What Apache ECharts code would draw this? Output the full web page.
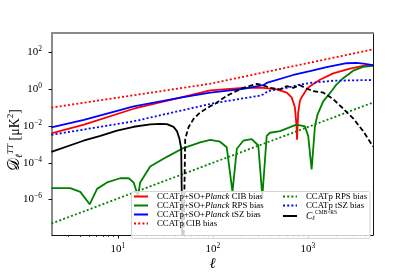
<!DOCTYPE html>
<html><head><meta charset="utf-8">
<script src="https://cdn.jsdelivr.net/npm/echarts@6/dist/echarts.min.js"></script>
<style>html,body{margin:0;padding:0;background:#fff}#c{width:415px;height:277px}</style>
</head><body><div id="c"></div>
<script>
// ---- data (ell, D_ell^TT in muK^2) ----
const ellJointCIB = [2, 4.4, 14.7, 49, 94, 209, 340, 470, 600, 675, 730, 760, 770, 790, 826, 860, 970, 1052, 1340, 1849, 2770, 3820, 4860];
const dlJointCIB  = [4.0e-3, 1.18e-2, 8.7e-2, 0.39, 0.865, 1.2, 1.2, 0.98, 0.66, 0.36, 0.108, 0.01, 1.8e-3, 0.048, 0.24, 0.36, 0.98, 1.47, 3.3, 7.3, 13.4, 18.5, 20];

const ellJointRPS = [2, 3.16, 4.03, 5.06, 6.05, 7.7, 10.6, 13, 14.7, 16.3, 17.2, 21.9, 32.9, 49, 73.6, 94, 119, 140, 161, 179, 209, 257, 301, 332, 369, 400, 509, 760, 931, 1009, 1096, 1188, 1260, 1451, 1780, 2000, 2355, 3000, 3820, 4860];
const dlJointRPS  = [4.2e-6, 4.2e-6, 2.6e-6, 5.5e-7, 3.8e-6, 8.5e-6, 1.44e-5, 1.44e-5, 8.5e-6, 1.5e-6, 8.5e-6, 6.3e-5, 2.1e-4, 6.3e-4, 1.29e-3, 1.78e-3, 1.4e-3, 7e-4, 2.6e-6, 5.8e-4, 1.58e-3, 1.94e-3, 8.7e-4, 1.45e-6, 2.9e-3, 4.3e-3, 5.3e-3, 1.18e-2, 9.6e-3, 2.9e-3, 4.3e-5, 9.6e-3, 0.04, 0.22, 0.8, 1.8, 4.0, 10.2, 16.4, 18.5];

const ellJointTSZ = [2, 4.4, 14.7, 49, 94, 209, 340, 369, 703, 1052, 1575, 2556, 3258, 3820, 4860];
const dlJointTSZ  = [8.5e-3, 0.0216, 0.117, 0.37, 0.66, 1.06, 1.66, 2.19, 5.96, 9.6, 16, 26, 27, 25, 20.5];

const ellCcatCIB = [2, 94, 4860];
const dlCcatCIB  = [0.1, 2.0, 148];

const ellCcatRPS = [2, 4860];
const dlCcatRPS  = [4.9e-8, 0.19];

const ellCcatTSZ = [2, 14.7, 100, 305, 340, 382, 600, 826, 1052, 1849, 4860];
const dlCcatTSZ  = [3.3e-3, 0.018, 0.17, 0.44, 0.53, 0.8, 1.2, 1.78, 2.19, 2.9, 3.2];

// C_ell^{CMB x RS}: positive part (solid) and |negative part| (dashed)
const ellCrossPos = [2, 4.35, 6.55, 9.8, 14.7, 21.9, 27.9, 32.9, 38.6, 41.9, 44.6, 46.5, 48.2];
const dlCrossPos  = [3.9e-4, 1.58e-3, 2.9e-3, 5.6e-3, 9.1e-3, 0.0123, 0.013, 0.0127, 8.9e-3, 5.3e-3, 1.94e-3, 5.8e-4, 1e-10];
const ellCrossNeg = [48.7, 51.2, 55.5, 62.6, 73.6, 94, 106, 140, 209, 290, 330, 400, 509, 600, 703, 826, 970, 1140, 1451, 1849, 2355, 3000, 3820, 4860];
const dlCrossNeg  = [1e-10, 1.95e-3, 8.5e-3, 0.024, 0.055, 0.12, 0.163, 0.44, 1.2, 1.94, 1.72, 1.2, 0.98, 1.47, 1.2, 1.66, 1.1, 0.8, 0.66, 0.29, 0.088, 0.026, 5.3e-3, 7.6e-4];

// ---- axes ticks and titles ----
const xMajorTicks = [10, 100, 1000];
const xMinorTicks = [3,4,5,6,7,8,9,20,30,40,50,60,70,80,90,200,300,400,500,600,700,800,900,2000,3000,4000];
const yMajorTicks = [1e-6, 1e-4, 1e-2, 1, 1e2];
const xTitle = '\u2113';
const yTitle = '{d|\ud835\udc9f}{sub|\u2113}{sup|TT}{n| [\u03bcK}{s2|2}{n|]}';

const X_MIN = 2.03, X_MAX = 4850;
const Y_MIN = Math.pow(10, -7.93), Y_MAX = Math.pow(10, 3.06);

const zip = (xs, ys) => xs.map((x, i) => [x, ys[i]]);
const SERIF = "'Liberation Serif', 'DejaVu Serif', serif";

const names = {
  jCIB: 'CCATp+SO+Planck CIB bias',
  jRPS: 'CCATp+SO+Planck RPS bias',
  jTSZ: 'CCATp+SO+Planck tSZ bias',
  cCIB: 'CCATp CIB bias',
  cRPS: 'CCATp RPS bias',
  cTSZ: 'CCATp tSZ bias',
  cross: 'CROSS'
};

const DOT = [2, 2.2];
function line(name, xs, ys, color, type) {
  return {
    name: name, type: 'line', data: zip(xs, ys), xAxisIndex: 0, yAxisIndex: 0,
    symbol: 'none', showSymbol: false, clip: true, smooth: false,
    lineStyle: {color: color, width: 1.8, type: type || 'solid', cap: 'butt'},
    itemStyle: {color: color, opacity: 0},
    emphasis: {disabled: true}
  };
}

function powLabel(v) {
  const e = Math.round(Math.log10(v));
  const s = (e < 0 ? '\u2212' + (-e) : '' + e);
  return '{b|10}{e|' + s + '}';
}
const tickRich = {
  b: {fontFamily: SERIF, fontSize: 11, lineHeight: 14, color: '#000'},
  e: {fontFamily: SERIF, fontSize: 7.5, lineHeight: 9, verticalAlign: 'top', color: '#000'}
};

const legendRich = {
  n: {fontFamily: SERIF, fontSize: 8.8, color: '#000', lineHeight: 11},
  i: {fontFamily: SERIF, fontSize: 8.8, fontStyle: 'italic', color: '#000', lineHeight: 11},
  c: {fontFamily: SERIF, fontSize: 9.5, fontStyle: 'italic', color: '#000', lineHeight: 12},
  sub: {fontFamily: SERIF, fontSize: 6.5, fontStyle: 'italic', color: '#000', lineHeight: 7, verticalAlign: 'bottom'},
  sup: {fontFamily: SERIF, fontSize: 5.5, color: '#000', lineHeight: 6, verticalAlign: 'top'}
};
function legendFmt(name) {
  if (name === names.cross) return '{c|C}{sub|\u2113}{sup|CMB\u00d7RS}';
  if (name.indexOf('CCATp+SO+Planck') === 0) return '{n|CCATp+SO+}{i|Planck}{n|' + name.slice(15) + '}';
  return '{n|' + name + '}';
}
const legendBase = {
  orient: 'vertical', itemWidth: 14, itemHeight: 11, itemGap: 0, padding: 0,
  itemStyle: {opacity: 0, borderWidth: 0},
  textStyle: {padding: [0, 0, 0, 4], rich: legendRich},
  formatter: legendFmt, selectedMode: false, z: 10
};

const chart = echarts.init(document.getElementById('c'), null, {renderer: 'canvas'});
chart.setOption({
  animation: false,
  backgroundColor: '#fff',
  grid: {left: 52, top: 33, width: 321, height: 210, containLabel: false},
  xAxis: [
    {
      type: 'log', logBase: 10, min: X_MIN, max: X_MAX, position: 'bottom',
      axisLine: {show: true, lineStyle: {color: '#111', width: 1}},
      axisTick: {show: true, inside: false, length: 3.5, customValues: xMajorTicks, lineStyle: {color: '#111', width: 1}},
      axisLabel: {show: true, customValues: xMajorTicks, margin: 7, formatter: powLabel, rich: tickRich},
      minorTick: {show: false}, splitLine: {show: false},
      name: xTitle, nameLocation: 'middle', nameGap: 22, nameMoveOverlap: false,
      nameTextStyle: {fontFamily: SERIF, fontSize: 15, fontStyle: 'italic', color: '#000'}
    },
    {
      type: 'log', logBase: 10, min: X_MIN, max: X_MAX, position: 'bottom',
      axisLine: {show: false},
      axisTick: {show: true, inside: false, length: 2, customValues: xMinorTicks, lineStyle: {color: '#111', width: 0.8}},
      axisLabel: {show: false}, splitLine: {show: false}
    },
    {
      type: 'log', logBase: 10, min: X_MIN, max: X_MAX, position: 'top',
      axisLine: {show: true, lineStyle: {color: '#8a8a8a', width: 2}},
      axisTick: {show: false}, axisLabel: {show: false}, splitLine: {show: false}
    }
  ],
  yAxis: [
    {
      type: 'log', logBase: 10, min: Y_MIN, max: Y_MAX, position: 'left',
      axisLine: {show: true, lineStyle: {color: '#8a8a8a', width: 2}},
      axisTick: {show: true, inside: false, length: 3.5, customValues: yMajorTicks, lineStyle: {color: '#111', width: 1}},
      axisLabel: {show: true, customValues: yMajorTicks, margin: 10, formatter: powLabel, rich: tickRich},
      minorTick: {show: false}, splitLine: {show: false}
    },
    {
      type: 'log', logBase: 10, min: Y_MIN, max: Y_MAX, position: 'right',
      axisLine: {show: true, lineStyle: {color: '#111', width: 1}},
      axisTick: {show: false}, axisLabel: {show: false}, splitLine: {show: false}
    }
  ],
  legend: [
    Object.assign({}, legendBase, {left: 133, top: 192, data: [names.jCIB, names.jRPS, names.jTSZ, names.cCIB]}),
    Object.assign({}, legendBase, {left: 282, top: 192, data: [names.cRPS, names.cTSZ, names.cross]})
  ],
  graphic: [
    {
      type: 'rect', z: 5, silent: true,
      shape: {x: 131.5, y: 191.5, width: 238.5, height: 47, r: 2},
      style: {fill: 'rgba(255,255,255,0.8)', stroke: '#d4d4d4', lineWidth: 1}
    },
    {
      type: 'text', z: 5, silent: true, x: 15, y: 140, rotation: Math.PI / 2,
      style: {
        text: yTitle, align: 'center', verticalAlign: 'middle',
        rich: {
          d: {fontFamily: SERIF, fontSize: 16, fill: '#000', lineHeight: 18},
          sub: {fontFamily: SERIF, fontSize: 9.5, fontStyle: 'italic', fill: '#000', lineHeight: 9, verticalAlign: 'bottom'},
          sup: {fontFamily: SERIF, fontSize: 9, fontStyle: 'italic', fill: '#000', lineHeight: 9, verticalAlign: 'top'},
          n: {fontFamily: SERIF, fontSize: 14, fill: '#000', lineHeight: 18},
          s2: {fontFamily: SERIF, fontSize: 9, fill: '#000', lineHeight: 10, verticalAlign: 'top'}
        }
      }
    }
  ],
  series: [
    line(names.jCIB, ellJointCIB, dlJointCIB, '#ff0000'),
    line(names.jRPS, ellJointRPS, dlJointRPS, '#008000'),
    line(names.jTSZ, ellJointTSZ, dlJointTSZ, '#0000ff'),
    line(names.cCIB, ellCcatCIB, dlCcatCIB, '#ff0000', DOT),
    line(names.cRPS, ellCcatRPS, dlCcatRPS, '#008000', DOT),
    line(names.cTSZ, ellCcatTSZ, dlCcatTSZ, '#0000ff', DOT),
    line(names.cross, ellCrossPos, dlCrossPos, '#000000'),
    line('crossNeg', ellCrossNeg, dlCrossNeg, '#000000', [5, 2.6])
  ]
});
</script></body></html>
